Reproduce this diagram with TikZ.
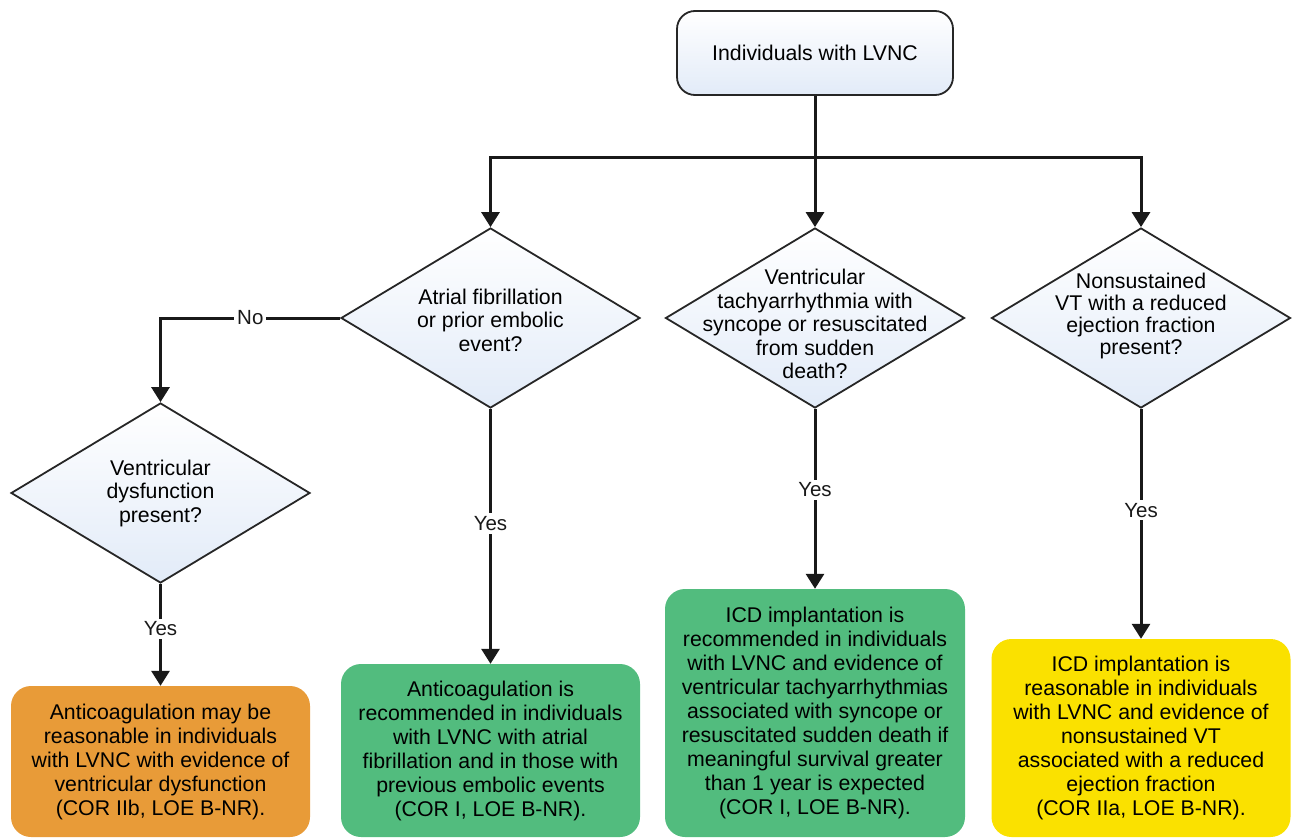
\documentclass[tikz,border=0pt]{standalone}
\usepackage{fontspec}
\setmainfont{Liberation Sans}
\usetikzlibrary{shapes.geometric,arrows.meta}
\definecolor{orangebox}{RGB}{232,155,56}
\definecolor{greenbox}{RGB}{82,188,126}
\definecolor{yellowbox}{RGB}{250,225,0}
\definecolor{paleblue}{RGB}{226,235,248}
\tikzset{
  txt/.style={font=\fontsize{21.3}{23.5}\selectfont, align=center, inner sep=0pt},
  topbox/.style={draw=black!85, line width=1.8pt, rounded corners=18pt, top color=white, bottom color=paleblue, minimum width=276pt, minimum height=84pt, inner sep=0pt, font=\fontsize{21.3}{24}\selectfont},
  dia/.style={diamond, draw=black!85, line width=1.8pt, top color=white, bottom color=paleblue, minimum width=299pt, minimum height=180pt, inner sep=0pt},
  resbox/.style={rounded corners=20pt, minimum width=299pt, inner sep=0pt, align=center, font=\fontsize{21.3}{24}\selectfont},
  conn/.style={line width=3pt, black!90},
  arr/.style={conn, -{Triangle[width=18pt,length=15pt]}},
  lbl/.style={fill=white, inner sep=3pt, font=\fontsize{20.5}{24}\selectfont}
}
\begin{document}
\begin{tikzpicture}[x=1pt,y=-1pt]
\useasboundingbox (0,0) rectangle (1295,838);
% top
\node[topbox] (top) at (815,53) {Individuals with LVNC};
% diamonds
\node[dia] (d1) at (490.5,318) {};
\node[dia] (d2) at (815,318) {};
\node[dia] (d3) at (1141,318) {};
\node[dia] (d4) at (160.5,493) {};
\node[txt] (t1) at (490.5,320) {Atrial fibrillation\\or prior embolic\\event?};
\node[txt] (t2) at (815,324) {Ventricular\\tachyarrhythmia with\\syncope or resuscitated\\from sudden\\death?};
\node[txt, font=\fontsize{21.3}{21.7}\selectfont] (t3) at (1141,316) {Nonsustained\\VT with a reduced\\ejection fraction\\present?};
\node[txt] (t4) at (160.5,493) {Ventricular\\dysfunction\\present?};
% result boxes
\node[resbox, fill=orangebox, minimum height=151pt] (r4) at (160.5,761.5) {Anticoagulation may be\\reasonable in individuals\\with LVNC with evidence of\\ventricular dysfunction\\(COR IIb, LOE B-NR).};
\node[resbox, fill=greenbox, minimum height=173pt] (r1) at (490.5,750.5) {Anticoagulation is\\recommended in individuals\\with LVNC with atrial\\fibrillation and in those with\\previous embolic events\\(COR I, LOE B-NR).};
\node[resbox, fill=greenbox, minimum width=300pt, minimum height=248pt] (r2) at (815,713) {ICD implantation is\\recommended in individuals\\with LVNC and evidence of\\ventricular tachyarrhythmias\\associated with syncope or\\resuscitated sudden death if\\meaningful survival greater\\than 1 year is expected\\(COR I, LOE B-NR).};
\node[resbox, fill=yellowbox, minimum height=198pt] (r3) at (1141,738) {ICD implantation is\\reasonable in individuals\\with LVNC and evidence of\\nonsustained VT\\associated with a reduced\\ejection fraction\\(COR IIa, LOE B-NR).};
% connectors
\coordinate (j) at (815,157);
\draw[conn] (top.south) -- (j);
\draw[arr] (j) -- (d2.north);
\draw[arr] (j) -| (d1.north);
\draw[arr] (j) -| (d3.north);
\draw[arr] (d1.west) -| node[lbl, pos=0.25] {No} (d4.north);
\draw[arr] (d4.south) -- node[lbl, pos=0.44] {Yes} (r4.north);
\draw[arr] (d1.south) -- node[lbl, pos=0.45] {Yes} (r1.north);
\draw[arr] (d2.south) -- node[lbl, pos=0.45] {Yes} (r2.north);
\draw[arr] (d3.south) -- node[lbl, pos=0.44] {Yes} (r3.north);
\end{tikzpicture}
\end{document}
